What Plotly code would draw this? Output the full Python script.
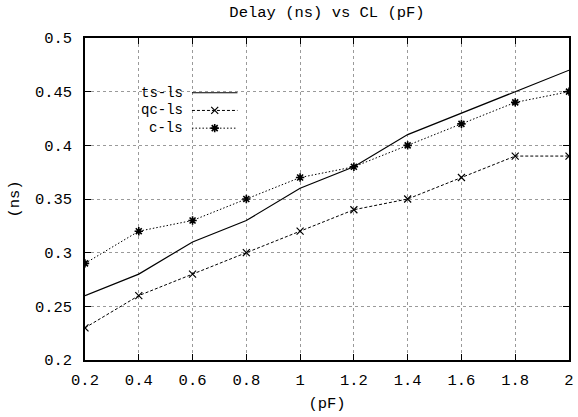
import plotly.graph_objects as go

cl_pf = [0.2, 0.4, 0.6, 0.8, 1.0, 1.2, 1.4, 1.6, 1.8, 2.0]
ts_ls = [0.26, 0.28, 0.31, 0.33, 0.36, 0.38, 0.41, 0.43, 0.45, 0.47]
qc_ls = [0.23, 0.26, 0.28, 0.30, 0.32, 0.34, 0.35, 0.37, 0.39, 0.39]
c_ls = [0.29, 0.32, 0.33, 0.35, 0.37, 0.38, 0.40, 0.42, 0.44, 0.45]
series_names = ["ts-ls", "qc-ls", "c-ls"]

FONT = "Liberation Mono, Courier New, monospace"
FS = 15.5
LEG_FS = 14

styles = [
    dict(mode="lines", line=dict(color="black", width=1.2)),
    dict(mode="lines+markers", line=dict(color="black", width=1, dash="3px,2px"),
         marker=dict(symbol="x-thin-open", size=7, color="black", line=dict(color="black", width=1.2))),
    dict(mode="lines+markers", line=dict(color="black", width=1, dash="1.5px,2px"),
         marker=dict(symbol="asterisk-open", size=7, color="black", line=dict(color="black", width=1.6))),
]

fig = go.Figure()
for name, ys, st in zip(series_names, [ts_ls, qc_ls, c_ls], styles):
    fig.add_trace(go.Scatter(x=cl_pf, y=ys, name=name, showlegend=False, **st))

# gnuplot-style legend: text then sample, drawn on an overlay axis
leg_y = [0.830, 0.775, 0.720]
for name, ly, st in zip(series_names, leg_y, styles):
    fig.add_trace(go.Scatter(x=[0.221, 0.315], y=[ly, ly], xaxis="x2", yaxis="y2",
                             showlegend=False, hoverinfo="skip",
                             mode="lines", line=st["line"]))
    if "marker" in st:
        fig.add_trace(go.Scatter(x=[0.268], y=[ly], xaxis="x2", yaxis="y2",
                                 showlegend=False, hoverinfo="skip", mode="markers",
                                 marker=st["marker"]))
    fig.add_annotation(x=0.200, y=ly, xref="x2", yref="y2", text=name, showarrow=False,
                       xanchor="right", yanchor="middle", xshift=2, borderpad=0,
                       font=dict(family=FONT, size=LEG_FS, color="black"))

# blank key background hiding the grid behind the legend
fig.add_shape(type="rect", xref="paper", yref="paper", x0=0.095, x1=0.345, y0=0.69, y1=0.86,
              fillcolor="white", line=dict(width=0), layer="between")

axis_common = dict(
    showline=True, linecolor="black", linewidth=1.5, mirror="ticks",
    ticks="inside", ticklen=6, tickcolor="black", tickwidth=1,
    showgrid=True, gridcolor="#9a9a9a", gridwidth=1, griddash="dot",
    zeroline=False, tickfont=dict(family=FONT, size=FS, color="black"),
)

fig.update_layout(
    width=578, height=417,
    margin=dict(l=85, r=4, t=38, b=57),
    paper_bgcolor="white", plot_bgcolor="white",
    title=dict(text="Delay (ns) vs CL (pF)", xref="paper", x=0.5, xanchor="center",
               y=0.985, yanchor="top",
               font=dict(family=FONT, size=FS, color="black")),
    xaxis=dict(range=[0.2, 2.0], tickvals=cl_pf, ticklabelstandoff=5,
               title=dict(text="(pF)", font=dict(family=FONT, size=FS, color="black"), standoff=8),
               **axis_common),
    yaxis=dict(range=[0.2, 0.5], dtick=0.05, tick0=0.2, ticklabelstandoff=8,
               title=dict(text="(ns)", font=dict(family=FONT, size=FS, color="black"), standoff=12),
               **axis_common),
    xaxis2=dict(range=[0, 1], overlaying="x", visible=False, fixedrange=True),
    yaxis2=dict(range=[0, 1], overlaying="y", visible=False, fixedrange=True),
    showlegend=False,
)

fig.write_html("out.html")
